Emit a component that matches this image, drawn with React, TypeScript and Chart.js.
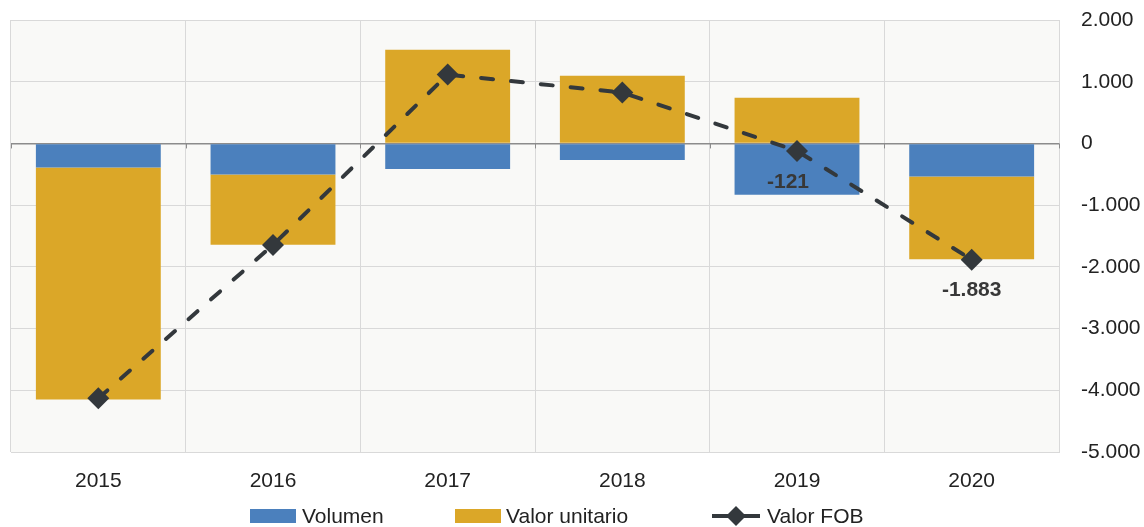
import React, { useEffect, useRef } from "react";
import { Chart, registerables } from "chart.js";

Chart.register(...registerables);

const categories = ["2015", "2016", "2017", "2018", "2019", "2020"];
const volumen = [-390, -505, -416, -270, -832, -535];
const valorUnitario = [-3760, -1135, 1518, 1097, 741, -1340];
const valorFOB = [-4130, -1645, 1115, 825, -121, -1883];
const fobLabelShown = [false, false, false, false, true, true];
const yTicks = [2000, 1000, 0, -1000, -2000, -3000, -4000, -5000];

const BLUE = "#4b80bd";
const GOLD = "#dba728";
const DARK = "#33383c";
const FONT = "'Liberation Sans', Arial, sans-serif";

const fmt = (v: number) => {
  const s = Math.abs(Math.round(v)).toString().replace(/\B(?=(\d{3})+(?!\d))/g, ".");
  return (v < 0 ? "-" : "") + s;
};

const decor = {
  id: "decor",
  beforeDraw(chart: any) {
    const { ctx, chartArea: a } = chart;
    ctx.save();
    ctx.fillStyle = "#f9f9f7";
    ctx.fillRect(a.left, a.top, a.right - a.left, a.bottom - a.top);
    ctx.restore();
  },
  afterDatasetsDraw(chart: any) {
    const { ctx, chartArea: a } = chart;
    const y = chart.scales.y;
    const y0 = y.getPixelForValue(0);
    ctx.save();
    ctx.strokeStyle = "#8c8c8c";
    ctx.lineWidth = 1;
    const n = categories.length;
    for (let i = 0; i <= n; i++) {
      const px = a.left + ((a.right - a.left) * i) / n;
      ctx.beginPath();
      ctx.moveTo(Math.round(px) + 0.5, y0);
      ctx.lineTo(Math.round(px) + 0.5, y0 + 5);
      ctx.stroke();
    }
    const meta = chart.getDatasetMeta(2);
    ctx.fillStyle = "#383838";
    ctx.font = "bold 21px " + FONT;
    ctx.textAlign = "center";
    ctx.textBaseline = "middle";
    valorFOB.forEach((v, i) => {
      if (!fobLabelShown[i]) return;
      const pt = meta.data[i];
      ctx.fillText(fmt(v), pt.x - (i === 4 ? 9 : 0), pt.y + 31);
    });
    const ly = 516;
    ctx.font = "21px " + FONT;
    ctx.textAlign = "left";
    ctx.fillStyle = BLUE;
    ctx.fillRect(250, ly - 7, 46, 14);
    ctx.fillStyle = "#222";
    ctx.fillText("Volumen", 302, ly + 1);
    ctx.fillStyle = GOLD;
    ctx.fillRect(455, ly - 7, 46, 14);
    ctx.fillStyle = "#222";
    ctx.fillText("Valor unitario", 506, ly + 1);
    ctx.strokeStyle = DARK;
    ctx.lineWidth = 4;
    ctx.beginPath();
    ctx.moveTo(712, ly);
    ctx.lineTo(760, ly);
    ctx.stroke();
    ctx.fillStyle = DARK;
    ctx.beginPath();
    ctx.moveTo(736, ly - 10);
    ctx.lineTo(746, ly);
    ctx.lineTo(736, ly + 10);
    ctx.lineTo(726, ly);
    ctx.closePath();
    ctx.fill();
    ctx.fillStyle = "#222";
    ctx.fillText("Valor FOB", 767, ly + 1);
    ctx.restore();
  },
};

export default function App() {
  const ref = useRef<HTMLCanvasElement | null>(null);
  useEffect(() => {
    if (!ref.current) return;
    const chart = new Chart(ref.current, {
      type: "bar",
      data: {
        labels: categories,
        datasets: [
          {
            type: "bar",
            label: "Volumen",
            data: volumen,
            backgroundColor: BLUE,
            stack: "s",
            order: 2,
            barPercentage: 0.715,
            categoryPercentage: 1,
          },
          {
            type: "bar",
            label: "Valor unitario",
            data: valorUnitario,
            backgroundColor: GOLD,
            stack: "s",
            order: 2,
            barPercentage: 0.715,
            categoryPercentage: 1,
          },
          {
            type: "line",
            label: "Valor FOB",
            data: valorFOB,
            borderColor: DARK,
            backgroundColor: DARK,
            borderWidth: 4,
            borderDash: [12, 18],
            borderCapStyle: "round",
            pointStyle: "rectRot",
            pointRadius: 11,
            pointBorderWidth: 0,
            pointBackgroundColor: DARK,
            tension: 0,
            order: 1,
          } as any,
        ],
      },
      options: {
        animation: false,
        responsive: true,
        maintainAspectRatio: false,
        layout: { padding: { left: 10, top: 20, right: 0, bottom: 0 } },
        plugins: {
          legend: { display: false },
          tooltip: { enabled: false },
        },
        scales: {
          x: {
            stacked: true,
            offset: true,
            grid: {
              offset: true,
              color: "#d9d9d9",
              drawTicks: false,
              lineWidth: 1,
            },
            border: { display: true, color: "#d9d9d9" },
            ticks: {
              padding: 17,
              color: "#222",
              font: { family: FONT, size: 21 },
            },
            afterFit(scale: any) {
              scale.height = 75;
              scale.paddingLeft = 0;
              scale.paddingRight = 0;
            },
          },
          y: {
            stacked: true,
            position: "right",
            min: -5000,
            max: 2000,
            afterBuildTicks(scale: any) {
              scale.ticks = yTicks.map((v) => ({ value: v }));
            },
            grid: {
              color: (c: any) => (c.tick && c.tick.value === 0 ? "#8c8c8c" : "#d9d9d9"),
              lineWidth: (c: any) => (c.tick && c.tick.value === 0 ? 1.5 : 1),
              drawTicks: false,
            },
            border: { display: true, color: "#d9d9d9" },
            ticks: {
              padding: 22,
              color: "#222",
              font: { family: FONT, size: 21 },
              callback: (v: any) => fmt(Number(v)),
            },
            afterFit(scale: any) {
              scale.width = 85;
              scale.paddingTop = 0;
              scale.paddingBottom = 0;
            },
          },
        },
      },
      plugins: [decor],
    });
    return () => chart.destroy();
  }, []);
  return (
    <div style={{ position: "fixed", left: 0, top: 0, width: 1144, height: 527, background: "#fff" }}>
      <canvas ref={ref} />
    </div>
  );
}
